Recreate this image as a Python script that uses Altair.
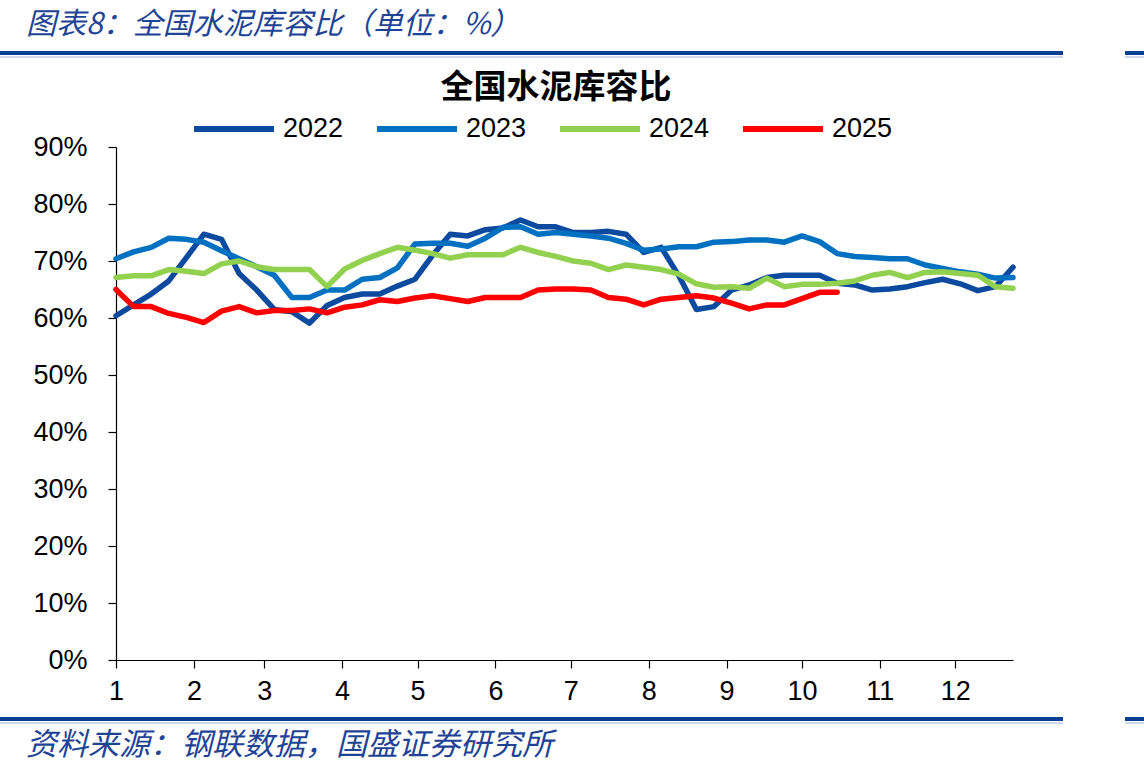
import altair as alt
import pandas as pd

# Weekly national cement storage-capacity ratio (%), one value per week from early January
y2022 = [60.4, 62.3, 64.2, 66.5, 70.6, 74.7, 73.8, 67.8, 64.9, 61.5, 61.1, 59.1, 62.2,
         63.6, 64.2, 64.2, 65.6, 66.8, 71.0, 74.7, 74.4, 75.5, 75.8, 77.2, 76.0, 76.0,
         75.0, 75.0, 75.2, 74.7, 71.5, 72.4, 67.4, 61.5, 62.0, 64.9, 65.8, 67.1, 67.5,
         67.5, 67.5, 66.1, 65.8, 64.9, 65.1, 65.5, 66.2, 66.8, 66.0, 64.8, 65.5, 68.9]
y2023 = [70.4, 71.6, 72.4, 74.0, 73.8, 73.3, 71.8, 70.4, 69.0, 67.5, 63.6, 63.6, 64.9,
         64.9, 66.8, 67.1, 68.8, 73.0, 73.1, 73.1, 72.6, 74.0, 75.9, 76.0, 74.7, 75.0,
         74.7, 74.4, 74.0, 73.1, 71.9, 72.1, 72.5, 72.5, 73.3, 73.4, 73.7, 73.7, 73.3,
         74.4, 73.4, 71.3, 70.8, 70.6, 70.4, 70.4, 69.3, 68.7, 68.1, 67.7, 67.0, 67.1]
y2024 = [67.1, 67.4, 67.4, 68.5, 68.2, 67.8, 69.5, 70.0, 69.0, 68.5, 68.5, 68.5, 65.5,
         68.6, 70.1, 71.3, 72.4, 71.9, 71.3, 70.5, 71.1, 71.1, 71.1, 72.4, 71.5, 70.8,
         70.0, 69.6, 68.5, 69.3, 68.9, 68.5, 67.7, 66.0, 65.4, 65.5, 65.2, 67.0, 65.5,
         65.9, 65.9, 66.1, 66.5, 67.5, 68.0, 67.1, 68.0, 68.1, 67.8, 67.5, 65.5, 65.2]
y2025 = [65.0, 62.0, 62.0, 60.8, 60.1, 59.2, 61.2, 62.0, 60.9, 61.3, 61.3, 61.6, 60.9,
         61.9, 62.3, 63.2, 62.9, 63.5, 63.9, 63.4, 62.9, 63.6, 63.6, 63.6, 64.9, 65.1,
         65.1, 64.9, 63.6, 63.3, 62.3, 63.3, 63.6, 63.9, 63.5, 62.6, 61.6, 62.3, 62.3,
         63.4, 64.5, 64.5]

series = {"2022": y2022, "2023": y2023, "2024": y2024, "2025": y2025}
years = list(series.keys())
colors = ["#0B4A9E", "#0070C0", "#92D050", "#FF0000"]

# Day-of-year on which each month starts; the axis is labelled 1..12 there
month_starts = [0, 31, 59, 90, 120, 151, 181, 212, 243, 273, 304, 334]
y_ticks = [0, 10, 20, 30, 40, 50, 60, 70, 80, 90]

rows = []
for yr, vals in series.items():
    for k, v in enumerate(vals):
        rows.append({"day": 7 * k, "value": v, "year": yr})
df = pd.DataFrame(rows)

W, H = 897, 513
LEFT, TOP = 116, 147
num_font = "Liberation Sans"
cjk_font = "Noto Sans CJK SC"
blue_text = "#1F4496"
bar_blue = "#0B3F94"

lines = alt.Chart(df).mark_line(strokeWidth=5.5, strokeJoin="round", strokeCap="round").encode(
    x=alt.X("day:Q",
            scale=alt.Scale(domain=[0, 357], nice=False, zero=False),
            axis=alt.Axis(values=month_starts,
                          labelExpr="indexof([" + ",".join(str(m) for m in month_starts) + "], datum.value) + 1",
                          title=None, grid=False, domainColor="black", domainWidth=1.2,
                          tickColor="black", tickSize=8, tickWidth=1.2,
                          labelFont=num_font, labelFontSize=27, labelColor="black",
                          labelPadding=10, labelFlush=False, labelOverlap=False)),
    y=alt.Y("value:Q",
            scale=alt.Scale(domain=[0, 90], nice=False),
            axis=alt.Axis(values=y_ticks, labelExpr="datum.value + '%'",
                          title=None, grid=False, domainColor="black", domainWidth=1.2,
                          tickColor="black", tickSize=8, tickWidth=1.2,
                          labelFont=num_font, labelFontSize=27, labelColor="black",
                          labelPadding=21)),
    color=alt.Color("year:N",
                    scale=alt.Scale(domain=years, range=colors),
                    legend=alt.Legend(title=None, orient="none", direction="horizontal",
                                      legendX=75, legendY=-61,
                                      symbolType="stroke", symbolSize=6400,
                                      symbolStrokeWidth=6, labelFont=num_font,
                                      labelFontSize=27, labelColor="black",
                                      labelOffset=6, columnPadding=21,
                                      labelLimit=200)),
    order="day:Q",
)


def text_mark(label, x, y, size, color, italic=False, bold=False, align="left", font=cjk_font):
    return alt.Chart(pd.DataFrame({"t": [label]})).mark_text(
        align=align, baseline="middle", fontSize=size, font=font,
        fontStyle="italic" if italic else "normal",
        fontWeight="bold" if bold else "normal", color=color,
    ).encode(x=alt.value(x - LEFT), y=alt.value(y - TOP), text="t:N")


def rule_mark(x1, x2, y, width, color):
    return alt.Chart(pd.DataFrame({"a": [0]})).mark_rule(strokeWidth=width, color=color).encode(
        x=alt.value(x1 - LEFT), x2=alt.value(x2 - LEFT), y=alt.value(y - TOP))


header = text_mark("图表8：全国水泥库容比（单位：%）", 26, 25, 30, blue_text, italic=True)
chart_title = text_mark("全国水泥库容比", 556, 88, 33, "black", bold=True, align="center")
footer = text_mark("资料来源：钢联数据，国盛证券研究所", 26, 746, 31, blue_text, italic=True)

bars = [
    rule_mark(0, 1063, 53, 4, bar_blue), rule_mark(0, 1063, 57, 1, "#9DB3DA"),
    rule_mark(1125, 1144, 53, 4, bar_blue), rule_mark(1125, 1144, 57, 1, "#9DB3DA"),
    rule_mark(0, 1063, 719, 4, bar_blue), rule_mark(0, 1063, 723, 1, "#9DB3DA"),
    rule_mark(1125, 1144, 719, 4, bar_blue), rule_mark(1125, 1144, 723, 1, "#9DB3DA"),
]

chart = alt.layer(lines, header, chart_title, footer, *bars).properties(
    width=W, height=H,
    autosize=alt.AutoSizeParams(type="none"),
    padding={"left": LEFT, "top": TOP, "right": 1144 - LEFT - W, "bottom": 777 - TOP - H},
    background="white",
).configure_view(stroke=None)

chart.save("out.html", embed_options={"renderer": "svg", "actions": False})
